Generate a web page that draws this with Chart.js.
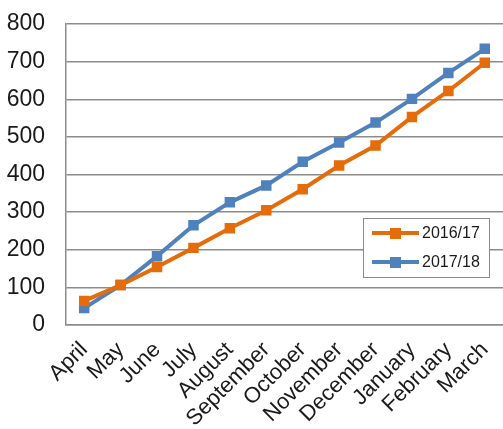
<!DOCTYPE html>
<html>
<head>
<meta charset="utf-8">
<script src="https://cdn.jsdelivr.net/npm/chart.js@4/dist/chart.umd.min.js"></script>
<style>
    html, body { margin: 0; padding: 0; background: #ffffff; }
    #wrap { width: 503px; height: 429px; position: relative; }
</style>
</head>
<body>
<div id="wrap"><canvas id="salesChart"></canvas></div>
<script>
// Month labels, April to March
const months = ['April', 'May', 'June', 'July', 'August', 'September', 'October',
    'November', 'December', 'January', 'February', 'March'];

// Cumulative totals per season
const season1617 = [64, 106, 154, 205, 257, 305, 361, 424, 477, 553, 622, 697];
const season1718 = [45, 106, 183, 265, 326, 371, 434, 485, 538, 601, 670, 734];

const seriesNames = ['2016/17', '2017/18'];
const yTicks = [0, 100, 200, 300, 400, 500, 600, 700, 800];

const orange = '#E46C0A';
const blue = '#4F81BD';
const gridGray = '#8C8C8C';

// Boxed legend drawn inside the plot area
const boxLegend = {
    id: 'boxLegend',
    afterDraw(chart) {
        const ctx = chart.ctx;
        const x = 363, y = 218, w = 126, h = 59;
        ctx.save();
        ctx.fillStyle = '#ffffff';
        ctx.fillRect(x, y, w, h);
        ctx.strokeStyle = gridGray;
        ctx.lineWidth = 1;
        ctx.strokeRect(x + 0.5, y + 0.5, w, h);
        chart.data.datasets.forEach((ds, i) => {
            const cy = y + 15 + i * 29;
            ctx.strokeStyle = ds.borderColor;
            ctx.lineWidth = 4;
            ctx.beginPath();
            ctx.moveTo(x + 9, cy);
            ctx.lineTo(x + 56, cy);
            ctx.stroke();
            ctx.fillStyle = ds.borderColor;
            ctx.fillRect(x + 27, cy - 5, 11, 11);
            ctx.fillStyle = '#1a1a1a';
            ctx.font = '16px "Liberation Sans", Arial, sans-serif';
            ctx.textBaseline = 'middle';
            ctx.fillText(ds.label, x + 59, cy + 1);
        });
        ctx.restore();
    }
};

const ctx = document.getElementById('salesChart').getContext('2d');
new Chart(ctx, {
    type: 'line',
    data: {
        labels: months,
        datasets: [{
            label: seriesNames[0],
            data: season1617,
            borderColor: orange,
            backgroundColor: orange,
            borderWidth: 4,
            pointStyle: 'rect',
            pointRadius: 6,
            pointBorderWidth: 2,
            tension: 0
        }, {
            label: seriesNames[1],
            data: season1718,
            borderColor: blue,
            backgroundColor: blue,
            borderWidth: 4,
            pointStyle: 'rect',
            pointRadius: 6,
            pointBorderWidth: 2,
            tension: 0
        }]
    },
    options: {
        responsive: true,
        maintainAspectRatio: false,
        animation: false,
        layout: { autoPadding: false, padding: { top: 24, right: -5, bottom: 0, left: 0 } },
        plugins: {
            legend: { display: false },
            tooltip: { enabled: false }
        },
        scales: {
            x: {
                offset: true,
                grid: { display: false, drawTicks: false },
                border: { display: true, color: gridGray, width: 1.5 },
                ticks: {
                    color: '#1a1a1a',
                    font: { family: '"Liberation Sans", Arial, sans-serif', size: 22 },
                    maxRotation: 45,
                    minRotation: 45,
                    autoSkip: false,
                    padding: 12
                },
                afterFit(scale) {
                    scale.height = 104;
                    scale.paddingRight = 0;
                    scale.paddingLeft = 0;
                }
            },
            y: {
                min: 0,
                max: 800,
                afterBuildTicks(scale) {
                    scale.ticks = yTicks.map(v => ({ value: v }));
                },
                grid: { color: gridGray, lineWidth: 1.5, drawTicks: false },
                border: { display: true, color: gridGray, width: 1.5 },
                ticks: {
                    color: '#1a1a1a',
                    font: { family: '"Liberation Sans", Arial, sans-serif', size: 23 },
                    padding: 21
                },
                afterFit(scale) {
                    scale.width = 66;
                    scale.paddingTop = 0;
                    scale.paddingBottom = 0;
                }
            }
        }
    },
    plugins: [boxLegend]
});
</script>
</body>
</html>
